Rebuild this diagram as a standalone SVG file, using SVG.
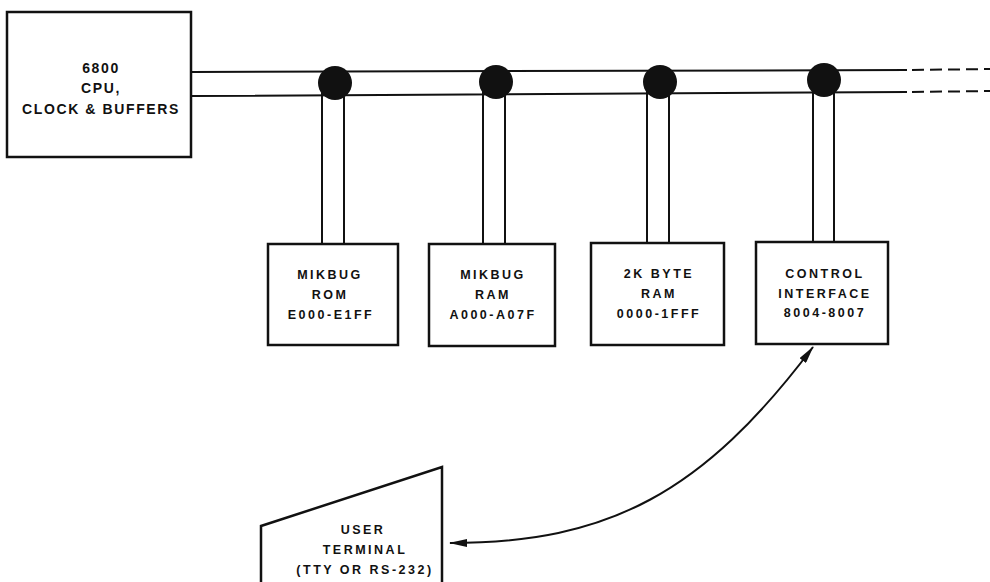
<svg xmlns="http://www.w3.org/2000/svg" width="990" height="582" viewBox="0 0 990 582">
<defs>
<style>
.box{fill:#fff;stroke:#111;stroke-width:2.5}
.ln{fill:none;stroke:#111;stroke-width:2}
.dot{fill:#111}
.t{font-family:"Liberation Sans",Arial,sans-serif;font-weight:bold;font-size:12.5px;letter-spacing:2.5px;fill:#111;text-anchor:middle}
.tc{font-size:14px;letter-spacing:1.6px}
</style>
<marker id="ah" viewBox="0 0 18 8" refX="17" refY="4" markerWidth="18" markerHeight="8" markerUnits="userSpaceOnUse" orient="auto-start-reverse">
<path d="M0,0 L18,4 L0,8 Z" fill="#111"/>
</marker>
</defs>
<g id="connectors">
<path class="ln" d="M191,72 L907,70 M191,96 L907,92"/>
<path class="ln" stroke-dasharray="12 6" d="M912,70 L990,69 M912,92 L990,91"/>
<path class="ln" d="M322,83 V244 M344,83 V244"/>
<path class="ln" d="M483,82 V244 M505,82 V244"/>
<path class="ln" d="M647,82 V243 M669,82 V243"/>
<path class="ln" d="M813,80 V242 M834,80 V242"/>
<circle class="dot" cx="335" cy="83" r="17"/>
<circle class="dot" cx="496" cy="82" r="17"/>
<circle class="dot" cx="660" cy="82" r="17"/>
<circle class="dot" cx="824" cy="80" r="17"/>
<path class="ln" d="M450,543 C609,543 703,493 813,347" marker-start="url(#ah)" marker-end="url(#ah)"/>
</g>
<g id="cpu">
<rect class="box" x="7" y="12" width="184" height="145"/>
<text class="t tc" x="101" y="73">6800</text>
<text class="t tc" x="101" y="93">CPU,</text>
<text class="t tc" x="101" y="114">CLOCK &amp; BUFFERS</text>
</g>
<g id="mikbug-rom">
<rect class="box" x="268" y="244" width="130" height="101"/>
<text class="t" x="330" y="278.5">MIKBUG</text>
<text class="t" x="330" y="298.5">ROM</text>
<text class="t" x="331" y="318.5">E000-E1FF</text>
</g>
<g id="mikbug-ram">
<rect class="box" x="429" y="244" width="126" height="102"/>
<text class="t" x="493" y="278.5">MIKBUG</text>
<text class="t" x="493" y="298.5">RAM</text>
<text class="t" x="493" y="318.5">A000-A07F</text>
</g>
<g id="ram-2k">
<rect class="box" x="591" y="243" width="133" height="102"/>
<text class="t" x="659" y="278">2K BYTE</text>
<text class="t" x="659" y="298">RAM</text>
<text class="t" x="659" y="318">0000-1FFF</text>
</g>
<g id="control-interface">
<rect class="box" x="756" y="242" width="132" height="102"/>
<text class="t" x="825" y="277.5">CONTROL</text>
<text class="t" x="825" y="297.5">INTERFACE</text>
<text class="t" x="825" y="317">8004-8007</text>
</g>
<g id="user-terminal">
<path class="box" d="M261,592 L261,526 L442,467 L442,592"/>
<text class="t" x="363" y="534">USER</text>
<text class="t" x="365" y="554">TERMINAL</text>
<text class="t" x="365" y="574">(TTY OR RS-232)</text>
</g>
</svg>
